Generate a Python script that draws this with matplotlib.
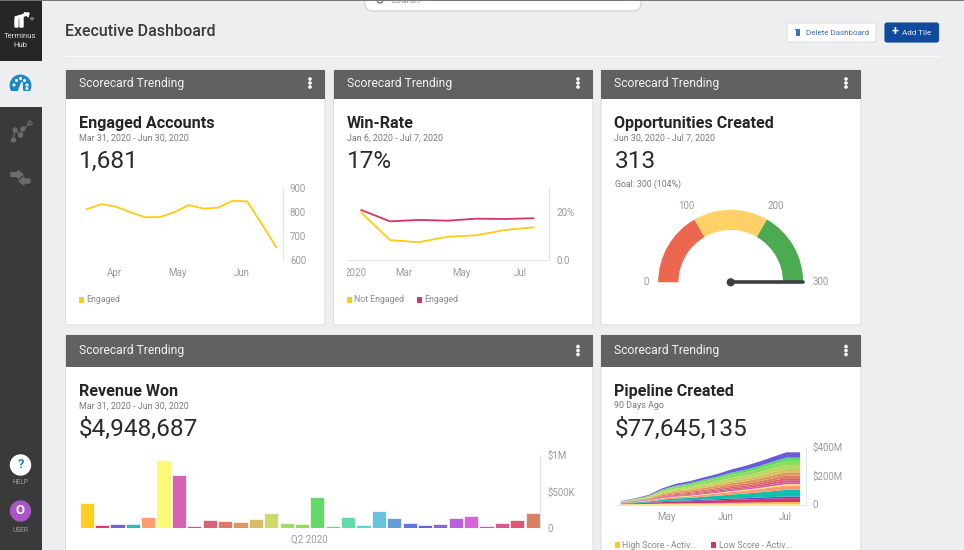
import matplotlib
matplotlib.use('Agg')
import matplotlib.pyplot as plt
from matplotlib.patches import Rectangle, FancyBboxPatch, Circle, Wedge, Polygon
from matplotlib.transforms import Bbox

plt.rcParams['font.family'] = ['Roboto', 'DejaVu Sans']

W, H = 964, 550

# colours
yellow = '#ffcb14'
crimson = '#d6336c'
tick_col = '#9b9b9b'
axis_col = '#e2e4e6'

# Engaged Accounts
engaged_x = list(range(14))
engaged = [811, 833, 822, 799, 778, 779, 799, 829, 814, 818, 847, 844, 749, 653]
engaged_ticks = [1.87, 6.25, 10.6]
engaged_ticklabels = ['Apr', 'May', 'Jun']

# Win-Rate
win_x = list(range(7))
win_not_engaged = [19.7, 8.3, 7.4, 9.7, 10.3, 12.5, 13.6]
win_engaged = [20.8, 16.1, 16.7, 16.4, 17.2, 17.1, 17.4]
win_ticks = [-0.2, 1.48, 3.5, 5.53]
win_ticklabels = ['2020', 'Mar', 'May', 'Jul']

# Opportunities gauge
gauge_edges = [0, 100, 200, 300]
gauge_colors = ['#ec6650', '#ffd166', '#4caa50']
gauge_value = 313

# Revenue Won, thousands of dollars
revenue = [347, 46, 55, 59, 160, 936, 731, 32, 114, 105, 91, 123, 205, 78, 64,
           425, 32, 155, 41, 233, 146, 73, 41, 64, 146, 169, 37, 68, 110, 210]
revenue_colors = ['#ffcb14', '#d6336c', '#6a5bdc', '#12bfae', '#ff9a66', '#fdf970',
                  '#d65aae', '#d9457c', '#d85a6c', '#df7260', '#dc8f58', '#d8b860',
                  '#cbd862', '#9bdc5e', '#88dc58', '#5bd860', '#55dc70', '#5cd8a4',
                  '#50d8c8', '#5fc0dc', '#5c98d8', '#5a70dc', '#5c58d8', '#8a58dc',
                  '#b458dc', '#d85ad8', '#d84aa8', '#d85088', '#d85068', '#d87858']

# Pipeline Created, millions of dollars
pipe_x = list(range(14))
pipe_high = [2, 3, 4, 6, 8, 9, 10, 11, 12, 13, 14, 15, 16, 16]
pipe_low = [3, 5, 7, 11, 13, 14, 16, 18, 20, 22, 24, 26, 28, 28]
pipe_purple = [1, 2, 3, 5, 6, 6, 7, 8, 9, 9, 10, 11, 12, 12]
pipe_teal = [3, 5, 7, 12, 15, 17, 21, 24, 28, 32, 36, 41, 46, 46]
pipe_salmon = [2, 3, 5, 8, 10, 11, 13, 15, 18, 20, 23, 27, 30, 30]
pipe_lemon = [1, 1, 2, 3, 3, 4, 4, 5, 6, 6, 7, 8, 9, 9]
pipe_magenta = [1, 2, 3, 4, 5, 6, 7, 8, 9, 10, 11, 12, 14, 14]
pipe_pink = [1, 2, 3, 5, 6, 6, 7, 8, 9, 10, 11, 13, 14, 14]
pipe_red = [1, 1, 2, 4, 6, 7, 8, 9, 10, 10, 11, 13, 14, 14]
pipe_orange = [1, 2, 3, 6, 7, 8, 9, 10, 12, 13, 14, 16, 18, 18]
pipe_tan = [1, 2, 4, 7, 10, 11, 13, 14, 16, 17, 19, 21, 23, 23]
pipe_khaki = [1, 2, 4, 8, 10, 11, 13, 14, 16, 17, 19, 21, 23, 23]
pipe_lime = [1, 3, 5, 9, 12, 14, 16, 18, 20, 22, 24, 26, 28, 28]
pipe_green = [1, 3, 5, 9, 12, 14, 16, 18, 20, 22, 24, 26, 28, 28]
pipe_mint = [1, 2, 3, 6, 9, 10, 12, 14, 16, 18, 19, 21, 23, 23]
pipe_blue = [2, 4, 6, 9, 12, 14, 16, 18, 22, 27, 31, 33, 37, 37]
pipe_series = [pipe_high, pipe_low, pipe_purple, pipe_teal, pipe_salmon, pipe_lemon,
               pipe_magenta, pipe_pink, pipe_red, pipe_orange, pipe_tan, pipe_khaki,
               pipe_lime, pipe_green, pipe_mint, pipe_blue]
pipe_colors = ['#ffcb14', '#d6336c', '#7a3fc0', '#12bfae', '#ff9a72', '#fff06a',
               '#d65aae', '#d9557c', '#d8606a', '#df7a60', '#dc9a58', '#d8c060',
               '#bcd862', '#8cdc5e', '#60d868', '#6a5bdc']
pipe_ticks = [3.33, 7.63, 11.9]
pipe_ticklabels = ['May', 'Jun', 'Jul']

fig = plt.figure(figsize=(W / 100, H / 100), dpi=100, facecolor='#eceef0')

# page furniture goes on one axes in pixel coordinates
bg = fig.add_axes([0, 0, 1, 1], zorder=0)
bg.set_xlim(0, W)
bg.set_ylim(H, 0)
bg.axis('off')


def txt(x, y, s, size, color, **kw):
    kw.setdefault('va', 'center')
    return bg.text(x, y, s, fontsize=size, color=color, **kw)


def rect(x0, y0, x1, y1, color, **kw):
    bg.add_patch(Rectangle((x0, y0), x1 - x0, y1 - y0, facecolor=color, edgecolor='none', **kw))


def round_box(x0, y0, x1, y1, face, edge='none', r=2):
    bg.add_patch(FancyBboxPatch((x0 + r, y0 + r), x1 - x0 - 2 * r, y1 - y0 - 2 * r,
                                boxstyle='round,pad=%d,rounding_size=%d' % (r, r),
                                facecolor=face, edgecolor=edge, linewidth=0.8))


def chart_ax(x0, y0, x1, y1):
    ax = fig.add_axes([x0 / W, 1 - y1 / H, (x1 - x0) / W, (y1 - y0) / H], zorder=2)
    ax.patch.set_alpha(0)
    for side in ax.spines:
        ax.spines[side].set_visible(False)
    ax.spines['right'].set_visible(True)
    ax.spines['right'].set_color(axis_col)
    ax.yaxis.tick_right()
    ax.tick_params(length=0, labelsize=7, colors=tick_col)
    ax.tick_params(axis='x', pad=5.5)
    ax.tick_params(axis='y', pad=5)
    return ax


def card(x0, y0, x1, y1, head_h, head_y, title, subtitle, number, dy):
    round_box(x0, y0, x1, y1, 'white', '#dcdee0')
    rect(x0, y0, x1, y0 + head_h, '#616161')
    txt(x0 + 13.5, head_y, 'Scorecard Trending', 8.7, '#f2f2f2')
    for off in (-4, 0, 4):
        bg.add_patch(Circle((x1 - 15, head_y + off), 1.1, color='white'))
    txt(x0 + 13.5, dy + 0.8, title, 11.6, '#262626', fontweight='bold')
    txt(x0 + 13.5, dy + 15, subtitle, 6.4, '#7a7a7a')
    txt(x0 + 13.5, dy + 38, number, 17.6, '#2b2b2b')


def legend_item(x, y, label, color):
    rect(x - 2.7, y - 2.7, x + 2.7, y + 2.7, color)
    txt(x + 5, y, label, 6.3, '#8a8a8a')


# sidebar
rect(0, 0, 41.5, H, '#3a3a3a')
rect(0, 0, 41.5, 60.5, '#262626')
rect(0, 61, 41.5, 107, '#eceef0')
bg.add_patch(Polygon([[15, 27], [18, 27], [18, 18], [15, 19]], color='white'))
bg.add_patch(Polygon([[20, 27], [23, 27], [23, 16], [20, 17]], color='white'))
bg.add_patch(Polygon([[15, 17], [25, 14], [24, 13], [29, 13], [28, 17], [27, 15], [16, 19]], color='white'))
bg.add_patch(Polygon([[30, 18], [34, 18], [32, 20]], color='#777777'))
txt(20.5, 36, 'Terminus', 5.6, '#dddddd', ha='center')
txt(20.5, 45, 'Hub', 5.6, '#dddddd', ha='center')

# active dashboard icon
bg.add_patch(Circle((20.5, 85.5), 10.2, color='#1c86c6'))
rect(9, 91, 32, 97, '#eceef0')
for dot in [(14, 85), (16.5, 80.5), (20.5, 78.5), (24.5, 80.5), (27, 85), (27, 88.5)]:
    bg.add_patch(Circle(dot, 0.9, color='#eceef0'))
bg.add_patch(Polygon([[18.5, 91], [22, 82], [22.5, 91]], color='#eceef0'))

# network and swap icons
nodes = [(13.5, 140), (15, 130), (20.5, 135), (23, 129), (30, 123)]
bg.plot([13.5, 15, 20.5, 23, 30], [140, 130, 135, 129, 123], color='#6b6b6b', lw=0.9)
for i, n in enumerate(nodes):
    bg.add_patch(Circle(n, 2.1, facecolor='#6b6b6b' if i < 4 else 'none', edgecolor='#6b6b6b', lw=0.8))
bg.add_patch(Polygon([[11, 172.5], [18, 172.5], [18, 170.5], [23, 174.5], [18, 178.5], [18, 176.5], [11, 176.5]], color='#6b6b6b'))
bg.add_patch(Polygon([[30, 179], [24, 179], [24, 177], [19, 181], [24, 185], [24, 183], [30, 183]], color='#6b6b6b'))

# help and user
bg.add_patch(Circle((20.5, 465), 10, color='white'))
txt(20.5, 465, '?', 9.5, '#1c86c6', ha='center', fontweight='bold')
txt(20.5, 482.5, 'HELP', 4.8, '#a0a0a0', ha='center')
bg.add_patch(Circle((20.5, 511), 10, color='#a855c8'))
txt(20.5, 511, 'O', 9.5, 'white', ha='center', fontweight='bold')
txt(20.5, 530.5, 'USER', 4.8, '#a0a0a0', ha='center')

# top bar
rect(0, 0, W, 1, '#777777')
round_box(365, -12, 641, 11, 'white', '#cfd2d4', r=8)
rect(0, 0, W, 0.8, '#777777')
bg.add_patch(Circle((380, 0), 3, facecolor='none', edgecolor='#777777', lw=1))
txt(391, 0, 'Search', 7, '#9a9a9a')

txt(65, 32, 'Executive Dashboard', 11.5, '#3a3a3a', fontweight='medium')
rect(65, 56, 940, 57, '#fafafa')

round_box(787, 23, 876, 42, 'white', '#dcdfe3')
rect(795.5, 30, 799.5, 36, '#3f6fb5')
rect(795, 29, 800, 29.8, '#3f6fb5')
txt(805.5, 32.7, 'Delete Dashboard', 5.8, '#3f6fb5')
round_box(885, 23, 938.5, 42, '#0f4a9c', '#0f4a9c')
txt(891.5, 32, '+', 9, 'white', fontweight='bold')
txt(902.5, 32.7, 'Add Tile', 5.8, '#e8eef8')

# cards
card(65.5, 70, 325, 325, 29, 83, 'Engaged Accounts', 'Mar 31, 2020 - Jun 30, 2020', '1,681', 123)
card(333.5, 70, 593, 325, 29, 83, 'Win-Rate', 'Jan 6, 2020 - Jul 7, 2020', '17%', 123)
card(601, 70, 861, 325, 29, 83, 'Opportunities Created', 'Jun 30, 2020 - Jul 7, 2020', '313', 123)
card(65.5, 335, 593, H + 6, 32, 350.5, 'Revenue Won', 'Mar 31, 2020 - Jun 30, 2020', '$4,948,687', 391)
card(601, 335, 861, H + 6, 32, 350.5, 'Pipeline Created', '90 Days Ago', '$77,645,135', 391)

# engaged accounts line
ax = chart_ax(79, 188, 283, 260)
ax.plot(engaged_x, engaged, color=yellow, lw=1.3)
ax.set_xlim(-0.53, 13.45)
ax.set_ylim(600, 900)
ax.set_yticks([600, 700, 800, 900])
ax.set_xticks(engaged_ticks, engaged_ticklabels)
legend_item(81.5, 300, 'Engaged', yellow)

# win rate lines
ax = chart_ax(347, 188, 549.3, 260)
ax.plot(win_x, win_not_engaged, color=yellow, lw=1.3)
ax.plot(win_x, win_engaged, color=crimson, lw=1.3)
ax.set_xlim(-0.5, 6.55)
ax.set_ylim(0, 30)
ax.set_yticks([0, 20], ['0.0', '20%'])
ax.set_xticks(win_ticks, win_ticklabels)
ax.spines['bottom'].set_visible(True)
ax.spines['bottom'].set_color(axis_col)
first = ax.get_xticklabels()[0]
first.set_clip_box(Bbox([[347, 0], [600, H]]))
first.set_clip_on(True)
legend_item(349.5, 300, 'Not Engaged', yellow)
legend_item(419.5, 300, 'Engaged', crimson)

# gauge, axes units are pixels around the hub
txt(614.7, 184, 'Goal: 300 (104%)', 6.3, '#7a7a7a')
ax = fig.add_axes([650 / W, 1 - 290 / H, 162 / W, 90 / H], zorder=2)
ax.set_xlim(650 - 730.7, 812 - 730.7)
ax.set_ylim(282.3 - 290, 282.3 - 200)
ax.axis('off')
for lo, hi, col in zip(gauge_edges[:-1], gauge_edges[1:], gauge_colors):
    ax.add_patch(Wedge((0, 0), 72.5, 180 - hi * 0.6, 180 - lo * 0.6, width=20.2, facecolor=col, edgecolor='none'))
needle = min(gauge_value, gauge_edges[-1]) / gauge_edges[-1] * 72.5
ax.plot([0, needle], [0, 0], color='#3c4043', lw=2.6, solid_capstyle='round')
ax.add_patch(Circle((0, 0), 3.4, color='#3c4043', zorder=3))
for x, y, lab in zip([645.7, 686, 775.6, 820.7], [282, 206, 206, 282], gauge_edges):
    txt(x, y, str(lab), 7, tick_col, ha='center')

# revenue bars
ax = chart_ax(79, 455.3, 540.3, 528.3)
ax.bar(range(len(revenue)), revenue, width=0.92, color=revenue_colors, edgecolor='#ffffff', linewidth=0.5, alpha=0.95)
ax.set_xlim(-0.5, 29.5)
ax.set_ylim(0, 1000)
ax.set_yticks([0, 500, 1000], ['0', '$500K', '$1M'])
ax.set_xticks([14.5], ['Q2 2020'])
ax.tick_params(axis='x', pad=4.5)

# pipeline stack
ax = chart_ax(615, 447, 806, 504.5)
ax.stackplot(pipe_x, *pipe_series, colors=pipe_colors, linewidth=0)
ax.set_xlim(-0.41, 13.43)
ax.set_ylim(0, 400)
ax.set_yticks([0, 200, 400], ['0', '$200M', '$400M'])
ax.set_xticks(pipe_ticks, pipe_ticklabels)
ax.spines['bottom'].set_visible(True)
ax.spines['bottom'].set_color(axis_col)
legend_item(617.5, 545, 'High Score - Activ...', pipe_colors[0])
legend_item(713.7, 545, 'Low Score - Activ...', pipe_colors[1])

fig.savefig('out.png', dpi=100, facecolor=fig.get_facecolor())
